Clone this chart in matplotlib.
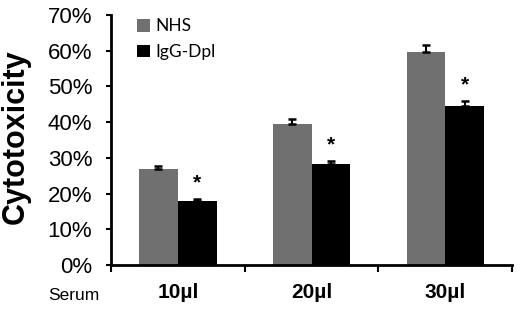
import matplotlib
matplotlib.use("Agg")
import matplotlib.pyplot as plt
import numpy as np
from matplotlib.ticker import PercentFormatter

groups = ["10\u00b5l", "20\u00b5l", "30\u00b5l"]
nhs = [27.0, 39.4, 59.6]
nhs_err = [0.8, 1.4, 2.0]
igg = [18.0, 28.3, 44.6]
igg_err = [0.6, 0.8, 1.2]

plt.rcParams['font.family'] = ['Liberation Sans', 'DejaVu Sans']

fig = plt.figure(figsize=(5.2, 3.12), dpi=100)
ax = fig.add_axes([0.2135, 0.1506, 0.7715, 0.8014])

x = np.arange(len(groups))
w = 0.29
ax.bar(x - w/2, nhs, w, color='#707070', label='NHS',
       yerr=[np.zeros(3), nhs_err], capsize=3,
       error_kw=dict(ecolor='black', elinewidth=1.5, capthick=1.8))
ax.bar(x + w/2, igg, w, color='black', label='IgG-Dpl',
       yerr=[np.zeros(3), igg_err], capsize=3,
       error_kw=dict(ecolor='black', elinewidth=1.5, capthick=1.8))

# asterisks above IgG-Dpl bars
for xi, v, e in zip(x, igg, igg_err):
    ax.text(xi + w/2, v + e + 4.5, '*', ha='center', va='center',
            fontsize=15, fontweight='bold')

ax.set_xlim(-0.5, 2.5)
ax.set_ylim(0, 70)
ax.set_yticks(np.arange(0, 71, 10))
ax.yaxis.set_major_formatter(PercentFormatter(decimals=0))
ax.tick_params(axis='y', labelsize=16, width=1.5, length=3.5, pad=10)

# x ticks at boundaries, labels at centres
ax.set_xticks([-0.5, 0.5, 1.5, 2.5])
ax.set_xticklabels([])
ax.set_xticks(x, minor=True)
ax.set_xticklabels(groups, minor=True, fontsize=15, fontweight='bold')
ax.tick_params(axis='x', which='major', width=1.5, length=5)
ax.tick_params(axis='x', which='minor', length=0, pad=13)

for s in ['top', 'right']:
    ax.spines[s].set_visible(False)
for s in ['left', 'bottom']:
    ax.spines[s].set_linewidth(2)

fig.text(16/520, 1 - 137/312, 'Cytotoxicity', fontsize=22, fontweight='bold',
         rotation=90, ha='center', va='center')
fig.text(73.5/520, 1 - 295/312, 'Serum', fontsize=12.5, ha='center', va='center')

ax.legend(loc='upper left', bbox_to_anchor=(0.035, 1.035), frameon=False,
          prop={'family': 'Lato', 'size': 12.5}, handlelength=0.75,
          handleheight=0.75, handletextpad=0.3, labelspacing=0.55,
          borderpad=0.2)

fig.savefig('out.png', dpi=100)
